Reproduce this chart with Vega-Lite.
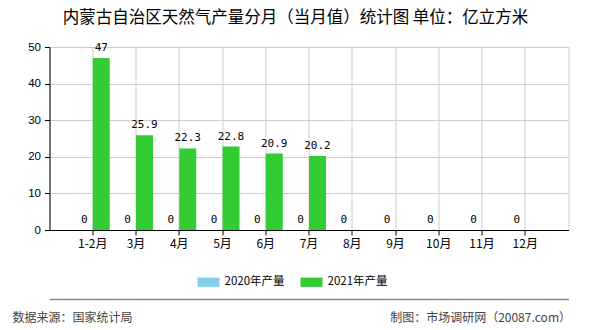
{
  "$schema": "https://vega.github.io/schema/vega-lite/v6.json",
  "width": 519,
  "height": 183,
  "autosize": {"type": "pad"},
  "padding": {"left": 11.5, "top": 9, "right": 5, "bottom": 5},
  "background": "white",
  "title": {
    "text": "内蒙古自治区天然气产量分月（当月值）统计图 单位：亿立方米",
    "anchor": "middle",
    "frame": "group",
    "dx": -13.5,
    "offset": 15,
    "font": "Noto Sans CJK SC",
    "fontSize": 16.5,
    "fontWeight": "normal",
    "color": "#000000"
  },
  "data": {
    "values": [
      {"m": "1-2月", "s": "2020年产量", "v": 0},
      {"m": "3月", "s": "2020年产量", "v": 0},
      {"m": "4月", "s": "2020年产量", "v": 0},
      {"m": "5月", "s": "2020年产量", "v": 0},
      {"m": "6月", "s": "2020年产量", "v": 0},
      {"m": "7月", "s": "2020年产量", "v": 0},
      {"m": "8月", "s": "2020年产量", "v": 0},
      {"m": "9月", "s": "2020年产量", "v": 0},
      {"m": "10月", "s": "2020年产量", "v": 0},
      {"m": "11月", "s": "2020年产量", "v": 0},
      {"m": "12月", "s": "2020年产量", "v": 0},
      {"m": "1-2月", "s": "2021年产量", "v": 47},
      {"m": "3月", "s": "2021年产量", "v": 25.9},
      {"m": "4月", "s": "2021年产量", "v": 22.3},
      {"m": "5月", "s": "2021年产量", "v": 22.8},
      {"m": "6月", "s": "2021年产量", "v": 20.9},
      {"m": "7月", "s": "2021年产量", "v": 20.2}
    ]
  },
  "encoding": {
    "y": {
      "field": "v",
      "type": "quantitative",
      "scale": {"domain": [0, 50], "nice": false},
      "axis": {
        "values": [0, 10, 20, 30, 40, 50],
        "labelOverlap": false,
        "title": "制图：市场调研网（20087.com）",
        "titleAngle": 0,
        "titleAlign": "right",
        "titleBaseline": "middle",
        "titleX": 521,
        "titleY": 270,
        "grid": true,
        "gridColor": "#cccccc",
        "gridWidth": 1,
        "gridOpacity": 1
      }
    }
  },
  "layer": [
    {
      "layer": [
        {
          "mark": {"type": "bar"},
          "encoding": {
            "x": {
              "field": "m",
              "type": "nominal",
              "sort": ["1-2月", "3月", "4月", "5月", "6月", "7月", "8月", "9月", "10月", "11月", "12月"],
              "scale": {"paddingInner": 0, "paddingOuter": 0.5},
              "axis": {
                "title": "数据来源：国家统计局",
                "titleAlign": "left",
                "titleAnchor": "start",
                "titleBaseline": "middle",
                "titleX": -37.5,
                "titleY": 87,
                "labelAngle": 0,
                "bandPosition": 0.5,
                "grid": true,
                "gridColor": "#cccccc",
                "gridWidth": 1,
                "gridOpacity": 1
              }
            },
            "xOffset": {
              "field": "s",
              "type": "nominal",
              "sort": ["2020年产量", "2021年产量"],
              "scale": {"paddingInner": 0, "paddingOuter": 0.272}
            },
            "color": {
              "field": "s",
              "type": "nominal",
              "sort": ["2020年产量", "2021年产量"],
              "scale": {"domain": ["2020年产量", "2021年产量"], "range": ["#87ceeb", "#33cc33"]},
              "legend": {
                "title": null,
                "orient": "none",
                "direction": "horizontal",
                "legendX": 148,
                "legendY": 224,
                "symbolType": "M-1,-0.42H1V0.42H-1Z",
                "symbolSize": 484,
                "symbolStrokeWidth": 0,
                "symbolOpacity": 1,
                "labelFont": "Noto Sans CJK SC",
                "labelFontSize": 11.5,
                "labelColor": "#000000",
                "labelOffset": 5,
                "columnPadding": 15
              }
            }
          }
        },
        {
          "mark": {"type": "text", "baseline": "bottom", "dy": -5, "font": "DejaVu Sans Mono", "fontSize": 11, "color": "#000000"},
          "encoding": {
            "x": {"field": "m", "type": "nominal", "sort": ["1-2月", "3月", "4月", "5月", "6月", "7月", "8月", "9月", "10月", "11月", "12月"]},
            "xOffset": {"field": "s", "type": "nominal", "sort": ["2020年产量", "2021年产量"]},
            "text": {"field": "v", "type": "quantitative"}
          }
        }
      ]
    },
    {
      "data": {"values": [{"k": "sep"}]},
      "mark": {"type": "point", "opacity": 0},
      "encoding": {
        "x": {
          "datum": 0,
          "type": "quantitative",
          "scale": {"domain": [0, 1]},
          "axis": {
            "orient": "bottom",
            "offset": 69,
            "domainColor": "#888888",
            "domainWidth": 1.5,
            "labels": false,
            "ticks": false,
            "grid": false,
            "title": null
          }
        },
        "y": {"datum": 0}
      }
    }
  ],
  "resolve": {"scale": {"x": "independent"}, "axis": {"x": "independent"}},
  "config": {
    "view": {"stroke": "#cccccc"},
    "font": "Noto Sans CJK SC",
    "axis": {
      "titleFont": "Noto Sans CJK SC",
      "titleFontSize": 12,
      "titleFontWeight": "normal",
      "titleColor": "#444444",
      "labelColor": "#000000",
      "domainColor": "#000000",
      "tickColor": "#000000",
      "tickSize": 5
    },
    "axisX": {"labelFont": "Noto Sans CJK SC", "labelFontSize": 12, "labelPadding": 3},
    "axisY": {"labelFont": "Liberation Sans", "labelFontSize": 11.5, "labelPadding": 4}
  }
}
